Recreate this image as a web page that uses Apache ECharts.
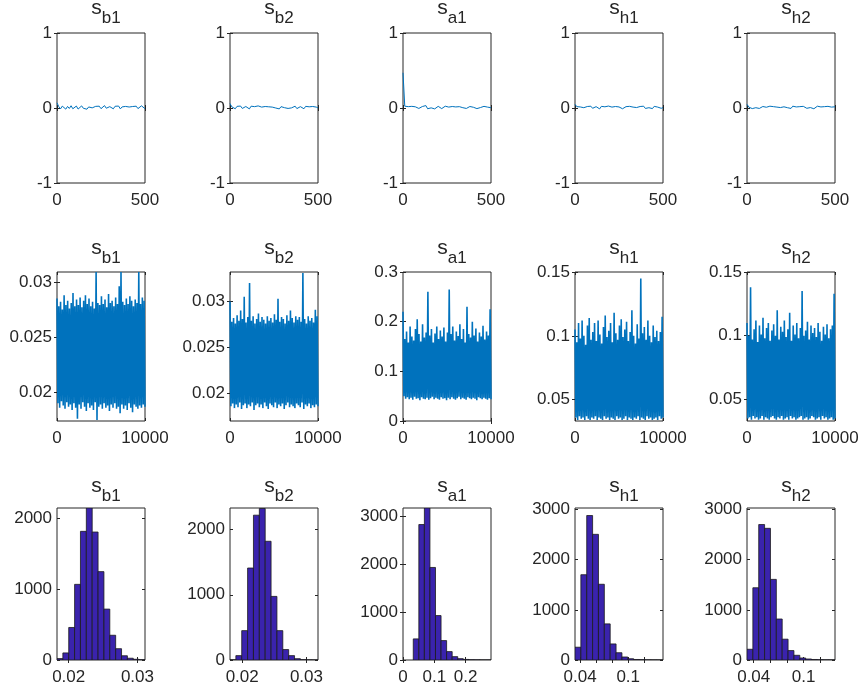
<!DOCTYPE html>
<html lang="en">
<head>
    <meta charset="UTF-8">
    <title>MCMC diagnostics</title>
    <script src="https://cdn.jsdelivr.net/npm/echarts@6/dist/echarts.min.js"></script>
    <style>
        html,body{margin:0;padding:0;background:#fff}
        #chart{width:865px;height:689px}
    </style>
</head>
<body>
<div id="chart"></div>
<script>
/*
 * 数据部分
 */
var names=["b1","b2","a1","h1","h2"];

// row 1: autocorrelation, lags 0..500 step 10
var acf_b1=[0.07,0.018,-0.012,0.025,0.004,-0.015,0.021,-0.006,0.030,-0.010,0.012,0.026,-0.014,0.008,0.028,-0.004,0.019,-0.016,0.014,0.027,0.002,-0.013,0.022,0.006,0.024,-0.009,0.013,0.032,-0.003,-0.017,0.018,0.005,-0.011,0.023,0.009,0.026,-0.012,0.015,0.003,0.021,-0.005,0.013,-0.010,0.020,0.007,0.024,-0.008,0.011,0.029,0.004,-0.009];
var acf_b2=[0.06,0.016,0.004,-0.010,0.022,0.008,0.026,-0.006,0.014,0.020,0.002,-0.012,0.024,0.010,0.018,-0.004,0.028,0.006,0.012,-0.008,0.020,0.004,0.016,-0.010,0.012,0.022,0.000,0.008,-0.012,0.018,0.026,0.004,0.010,-0.006,0.020,0.002,0.014,0.024,-0.008,0.006,0.018,0.010,-0.010,0.022,0.004,0.016,-0.004,0.020,0.008,0.012,0.002];
var acf_a1=[0.47,0.024,0.008,0.018,-0.008,0.022,0.004,0.016,0.026,-0.006,0.012,0.020,0.006,0.032,-0.010,0.014,0.002,0.018,-0.012,0.010,0.022,0.004,-0.008,0.016,0.024,0.006,0.012,-0.004,0.020,0.008,0.014,-0.010,0.018,0.022,0.004,0.012,-0.006,0.016,0.020,0.002,0.010,0.024,-0.008,0.014,0.006,0.018,0.022,-0.004,0.012,0.008,0.004];
var acf_h1=[0.05,0.018,-0.006,0.014,0.022,0.004,-0.010,0.020,0.008,0.024,-0.004,0.012,0.018,0.002,-0.012,0.022,0.010,0.016,-0.006,0.026,0.004,0.012,-0.008,0.020,0.006,0.014,0.024,-0.010,0.008,0.018,0.002,0.022,-0.004,0.012,0.016,0.006,-0.012,0.020,0.010,0.024,-0.006,0.014,0.004,0.018,-0.008,0.022,0.008,0.012,0.020,-0.004,0.006];
var acf_h2=[0.05,0.012,0.022,-0.008,0.016,0.004,0.026,-0.006,0.014,0.020,0.002,0.010,-0.012,0.024,0.008,0.018,-0.004,0.012,0.022,0.006,-0.010,0.016,0.020,0.004,0.012,-0.006,0.024,0.008,0.014,-0.008,0.018,0.002,0.022,0.010,-0.004,0.016,0.006,0.020,-0.010,0.012,0.024,0.004,0.014,-0.006,0.018,0.008,0.022,0.002,0.012,-0.008,0.016];

// row 2: trace envelopes, 50 upper / lower swings over 10000 draws
var hi_b1=[0.0285,0.0278,0.0282,0.0275,0.0288,0.0279,0.0283,0.0276,0.0281,0.0290,0.0278,0.0284,0.0279,0.0286,0.0277,0.0283,0.0288,0.0280,0.0285,0.0278,0.0282,0.0276,0.0309,0.0281,0.0279,0.0287,0.0280,0.0284,0.0277,0.0289,0.0281,0.0283,0.0278,0.0286,0.0280,0.0296,0.0309,0.0282,0.0279,0.0285,0.0280,0.0287,0.0283,0.0278,0.0284,0.0281,0.0309,0.0280,0.0286,0.0283];
var lo_b1=[0.0190,0.0186,0.0192,0.0188,0.0185,0.0191,0.0187,0.0189,0.0184,0.0190,0.0186,0.0176,0.0189,0.0185,0.0191,0.0187,0.0183,0.0190,0.0186,0.0188,0.0184,0.0191,0.0175,0.0187,0.0189,0.0185,0.0190,0.0186,0.0188,0.0183,0.0189,0.0186,0.0190,0.0185,0.0187,0.0181,0.0189,0.0185,0.0188,0.0184,0.0190,0.0186,0.0182,0.0189,0.0187,0.0185,0.0188,0.0186,0.0189,0.0187];
var hi_b2=[0.0300,0.0278,0.0282,0.0276,0.0285,0.0279,0.0290,0.0281,0.0305,0.0277,0.0283,0.0320,0.0279,0.0284,0.0276,0.0281,0.0287,0.0278,0.0283,0.0280,0.0276,0.0284,0.0279,0.0282,0.0277,0.0286,0.0280,0.0303,0.0278,0.0283,0.0281,0.0276,0.0285,0.0279,0.0290,0.0282,0.0277,0.0284,0.0280,0.0283,0.0278,0.0331,0.0281,0.0276,0.0284,0.0279,0.0282,0.0277,0.0291,0.0284];
var lo_b2=[0.0186,0.0189,0.0184,0.0188,0.0185,0.0190,0.0183,0.0187,0.0189,0.0184,0.0188,0.0186,0.0190,0.0182,0.0187,0.0189,0.0185,0.0188,0.0184,0.0190,0.0186,0.0183,0.0189,0.0187,0.0185,0.0190,0.0184,0.0188,0.0186,0.0189,0.0183,0.0187,0.0190,0.0185,0.0188,0.0186,0.0184,0.0189,0.0187,0.0185,0.0190,0.0183,0.0188,0.0186,0.0189,0.0184,0.0187,0.0185,0.0188,0.0186];
var hi_a1=[0.220,0.165,0.180,0.158,0.190,0.170,0.162,0.185,0.205,0.175,0.160,0.195,0.168,0.178,0.260,0.172,0.185,0.158,0.176,0.190,0.165,0.182,0.170,0.188,0.160,0.178,0.265,0.175,0.190,0.162,0.180,0.171,0.195,0.165,0.185,0.158,0.230,0.175,0.168,0.200,0.172,0.186,0.160,0.178,0.170,0.192,0.164,0.180,0.172,0.225];
var lo_a1=[0.050,0.045,0.048,0.044,0.047,0.043,0.049,0.045,0.046,0.042,0.048,0.045,0.044,0.047,0.043,0.046,0.049,0.044,0.047,0.045,0.043,0.048,0.045,0.046,0.042,0.047,0.044,0.048,0.045,0.043,0.046,0.049,0.044,0.047,0.045,0.043,0.048,0.046,0.044,0.047,0.045,0.042,0.048,0.046,0.044,0.047,0.045,0.043,0.046,0.044];
var hi_h1=[0.105,0.095,0.110,0.098,0.112,0.100,0.093,0.108,0.114,0.097,0.103,0.110,0.096,0.112,0.101,0.094,0.107,0.116,0.099,0.104,0.110,0.095,0.118,0.102,0.097,0.108,0.113,0.099,0.105,0.111,0.096,0.103,0.120,0.100,0.094,0.109,0.098,0.145,0.102,0.107,0.097,0.112,0.100,0.095,0.108,0.099,0.104,0.096,0.103,0.115];
var lo_h1=[0.036,0.034,0.037,0.035,0.036,0.034,0.037,0.035,0.034,0.036,0.035,0.037,0.034,0.036,0.035,0.034,0.037,0.035,0.036,0.034,0.036,0.035,0.034,0.037,0.035,0.036,0.034,0.035,0.037,0.034,0.036,0.035,0.034,0.036,0.035,0.037,0.034,0.036,0.035,0.034,0.037,0.035,0.036,0.034,0.035,0.036,0.034,0.037,0.035,0.036];
var hi_h2=[0.110,0.100,0.138,0.097,0.105,0.112,0.095,0.108,0.101,0.114,0.098,0.106,0.110,0.096,0.104,0.109,0.100,0.120,0.097,0.107,0.103,0.112,0.099,0.105,0.118,0.096,0.108,0.101,0.110,0.098,0.106,0.135,0.100,0.104,0.111,0.097,0.108,0.102,0.106,0.099,0.110,0.103,0.096,0.107,0.101,0.109,0.098,0.105,0.108,0.133];
var lo_h2=[0.035,0.036,0.034,0.037,0.035,0.036,0.034,0.035,0.037,0.034,0.036,0.035,0.034,0.036,0.037,0.035,0.034,0.036,0.035,0.037,0.034,0.035,0.036,0.034,0.037,0.035,0.036,0.034,0.035,0.036,0.037,0.034,0.035,0.036,0.034,0.035,0.037,0.036,0.034,0.035,0.036,0.034,0.037,0.035,0.036,0.034,0.035,0.036,0.034,0.035];

// row 3: histogram counts and bin ranges [first edge, last edge]
var cnt_b1=[20,100,460,1070,1820,2150,1810,1250,720,350,160,60,25,10,4];
var cnt_b2=[2,67,450,1410,2220,2323,1820,975,450,160,67,20,5,2,1];
var cnt_a1=[440,2825,3170,1930,927,405,175,70,28,12,5,3,1,1];
var cnt_h1=[255,1700,2880,2505,1510,720,320,145,60,25,10,5,3,2,1];
var cnt_h2=[214,1440,2700,2625,1607,817,415,188,94,40,20,10,5,3,2];
var bins_b1=[0.0183,0.0311];
var bins_b2=[0.0181,0.0318];
var bins_a1=[0.0328,0.2812];
var bins_h1=[0.0336,0.1434];
var bins_h2=[0.0319,0.1377];

// axis ranges and ticks
var row2Y=[[0.0174,0.0309],[0.0170,0.0332],[0,0.3],[0.0333,0.15],[0.033,0.15]];
var row2YTicks=[[0.02,0.025,0.03],[0.02,0.025,0.03],[0,0.1,0.2,0.3],[0.05,0.1,0.15],[0.05,0.1,0.15]];
var row3X=[[0.0183,0.0311],[0.0181,0.0318],[0,0.281],[0.0336,0.1434],[0.0319,0.1377]];
var row3XLabels=[[0.02,0.03],[0.02,0.03],[0,0.1,0.2],[0.04,0.1],[0.04,0.1]];
var row3XTicks=[[0.02,0.03],[0.02,0.03],[0,0.1,0.2],[0.04,0.06,0.08,0.1,0.12],[0.04,0.06,0.08,0.1,0.12]];
var row3YMax=[2150,2330,3170,3030,3030];
var row3YTicks=[[0,1000,2000],[0,1000,2000],[0,1000,2000,3000],[0,1000,2000,3000],[0,1000,2000,3000]];

/*
 * 布局
 */
var colLeft=[57,230,403,575,747];
var colWidth=88;
var rowTop=[33,272,508];
var rowHeight=[150,149,152];
var titleTop=[-2,238,476];
var ink="#262626";
var lineBlue="#0072BD";
var barFill="#3a23ad";
var fontFam="'Liberation Sans', Arial, sans-serif";

var acfs=[acf_b1,acf_b2,acf_a1,acf_h1,acf_h2];
var his=[hi_b1,hi_b2,hi_a1,hi_h1,hi_h2];
var los=[lo_b1,lo_b2,lo_a1,lo_h1,lo_h2];
var cnts=[cnt_b1,cnt_b2,cnt_a1,cnt_h1,cnt_h2];
var binRanges=[bins_b1,bins_b2,bins_a1,bins_h1,bins_h2];

var grids=[],xAxes=[],yAxes=[],series=[],titles=[];

function fmt(v){
	return String(+(+v).toFixed(6));
}
function axisDef(pos,gi,min,max,ticks,labels){
	var hasLabel=labels!=null;
	return {
		type:"value",gridIndex:gi,position:pos,min:min,max:max,
		axisLine:{show:false},splitLine:{show:false},
		axisTick:{show:true,inside:true,length:3,customValues:ticks,lineStyle:{color:ink,width:1}},
		axisLabel:{show:hasLabel,customValues:hasLabel?labels:[],formatter:fmt,color:ink,
			fontSize:17,fontFamily:fontFam,margin:(pos=="left"?5:9)}
	};
}
function addPanel(row,col,xr,xTicks,xLabels,yr,yTicks){
	var gi=grids.length;
	grids.push({left:colLeft[col],top:rowTop[row],width:colWidth,height:rowHeight[row],
		show:true,borderColor:ink,borderWidth:1,backgroundColor:"#fff"});
	xAxes.push(axisDef("bottom",gi,xr[0],xr[1],xTicks,xLabels));
	xAxes.push(axisDef("top",gi,xr[0],xr[1],xTicks,null));
	yAxes.push(axisDef("left",gi,yr[0],yr[1],yTicks,yTicks));
	yAxes.push(axisDef("right",gi,yr[0],yr[1],yTicks,null));
	titles.push({
		text:"{s|s}{sub|"+names[col]+"}",
		left:colLeft[col]+colWidth/2+5,top:titleTop[row],textAlign:"center",padding:0,
		textStyle:{fontWeight:"normal",rich:{
			s:{fontSize:21,fontFamily:fontFam,fontWeight:"normal",color:ink,verticalAlign:"top"},
			sub:{fontSize:17,fontFamily:fontFam,fontWeight:"normal",color:ink,verticalAlign:"top",padding:[12,0,0,0]}
		}}
	});
	return gi;
}

/*
 * 第一行: 自相关
 */
for(var c=0;c<5;c++){
	var gi=addPanel(0,c,[0,500],[0,500],[0,500],[-1,1],[-1,0,1]);
	var d=[];
	for(var i=0;i<acfs[c].length;i++){ d.push([i*10,acfs[c][i]]); }
	series.push({type:"line",xAxisIndex:gi*2,yAxisIndex:gi*2,data:d,showSymbol:false,
		lineStyle:{color:lineBlue,width:1},animation:false});
}
/*
 * 第二行: 迭代轨迹
 */
for(var c=0;c<5;c++){
	var gi=addPanel(1,c,[0,10000],[0,10000],[0,10000],row2Y[c],row2YTicks[c]);
	var d=[],n=his[c].length*2-1;
	for(var i=0;i<his[c].length;i++){
		d.push([(2*i)*10000/n,his[c][i]]);
		d.push([(2*i+1)*10000/n,los[c][i]]);
	}
	series.push({type:"line",xAxisIndex:gi*2,yAxisIndex:gi*2,data:d,showSymbol:false,
		lineStyle:{color:lineBlue,width:1.6,join:"miter"},animation:false});
}
/*
 * 第三行: 直方图
 */
function histItem(params,api){
	var p0=api.coord([api.value(0),api.value(2)]);
	var p1=api.coord([api.value(1),0]);
	return {type:"rect",shape:{x:p0[0],y:p0[1],width:p1[0]-p0[0],height:p1[1]-p0[1]},
		style:{fill:barFill,stroke:"#1a1a1a",lineWidth:0.8}};
}
for(var c=0;c<5;c++){
	var gi=addPanel(2,c,row3X[c],row3XTicks[c],row3XLabels[c],[0,row3YMax[c]],row3YTicks[c]);
	var cn=cnts[c],br=binRanges[c],w=(br[1]-br[0])/cn.length,d=[];
	for(var i=0;i<cn.length;i++){ d.push([br[0]+i*w,br[0]+(i+1)*w,cn[i]]); }
	series.push({type:"custom",xAxisIndex:gi*2,yAxisIndex:gi*2,data:d,renderItem:histItem,
		encode:{x:[0,1],y:2},clip:true,animation:false});
}

var myChart=echarts.init(document.getElementById("chart"));
myChart.setOption({
	animation:false,
	backgroundColor:"#fff",
	title:titles,
	grid:grids,
	xAxis:xAxes,
	yAxis:yAxes,
	series:series
});
</script>
</body>
</html>
